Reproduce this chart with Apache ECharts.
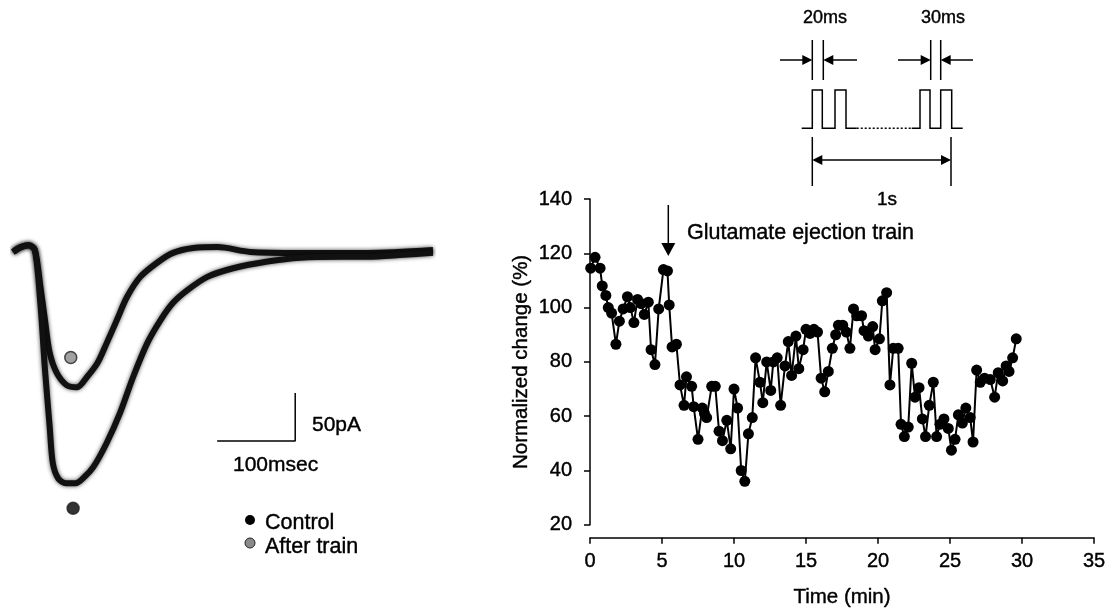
<!DOCTYPE html>
<html>
<head>
<meta charset="utf-8">
<style>
html, body { margin: 0; padding: 0; background: #fff; }
#main { width: 1116px; height: 613px; }
</style>
<script src="https://cdn.jsdelivr.net/npm/echarts@6/dist/echarts.min.js"></script>
</head>
<body>
<div id="main"></div>
<script>
var FONT = 'Liberation Sans, Arial, sans-serif'

// right panel: normalized change (%) vs time (min)
var times = [0.05, 0.35, 0.7, 0.85, 1.1, 1.27, 1.5, 1.8, 2.04, 2.3, 2.6, 2.8, 3.05, 3.3, 3.55, 3.77, 4.05, 4.24, 4.51, 4.77,
  5.1, 5.38, 5.5, 5.7, 6.0, 6.25, 6.53, 6.7, 7.06, 7.2, 7.5, 7.8, 7.95, 8.1, 8.45, 8.7, 8.96, 9.2, 9.5, 9.77,
  10.0, 10.25, 10.5, 10.75, 11.0, 11.27, 11.5, 11.8, 12.0, 12.27, 12.55, 12.73, 13.0, 13.24, 13.54, 13.77, 14.0, 14.3, 14.5, 14.8,
  15.0, 15.28, 15.55, 15.8, 16.05, 16.3, 16.55, 16.83, 17.06, 17.25, 17.55, 17.8, 18.05, 18.3, 18.52, 18.86, 19.03, 19.33, 19.63, 19.8,
  20.1, 20.3, 20.6, 20.83, 21.06, 21.4, 21.6, 21.83, 22.1, 22.34, 22.57, 22.85, 23.08, 23.3, 23.56, 23.84, 24.07, 24.3, 24.58, 24.88,
  25.1, 25.35, 25.58, 25.86, 26.1, 26.4, 26.6, 26.85, 27.1, 27.4, 27.8, 28.1, 28.35, 28.66, 28.9, 29.1, 29.35, 29.6]
var values = [114.5, 118.5, 114.5, 108, 104.5, 100, 98, 86.5, 95, 99.5, 104, 100, 94.5, 103, 101.5, 97.5, 102, 84.5, 79, 99.5,
  114, 113.5, 101, 85.5, 86.5, 71.5, 64, 74.5, 71, 63.5, 51.5, 63, 61, 59.5, 71, 71, 54.5, 51, 58.5, 48,
  70, 63, 40, 36, 53.5, 59.5, 81.5, 72.5, 65, 80, 69.5, 80, 81.5, 64, 78.5, 87.5, 75, 89.5, 77.5, 84.5,
  92, 90.5, 92, 91, 74, 69, 76.5, 85, 90, 93.5, 93.5, 91, 85, 99.5, 97, 97, 91.5, 89.5, 93, 84.5,
  88.5, 102.5, 105.5, 71.5, 85, 85, 57, 52.5, 56, 79.5, 67, 70.5, 59, 52.5, 64, 72.5, 52.5, 57, 59, 55.5,
  47.5, 51.5, 60.5, 57.5, 63, 59.5, 50.5, 77, 72.5, 74, 73.5, 67, 76, 73, 78.5, 76.5, 81.5, 88.5]
var xTicks = [0, 5, 10, 15, 20, 25, 30, 35]
var yTicks = [20, 40, 60, 80, 100, 120, 140]

// left panel: current traces, time in ms, current in pA
var controlT = [0, 10, 20, 28, 35, 41, 47, 51, 58, 68, 80, 92, 103, 120, 137, 154, 172, 189, 205, 223, 249, 282, 326, 368, 420, 454, 500, 538]
var controlI = [-2, 3, 5, 0, -55, -125, -184, -222, -238, -243, -243, -236, -226, -201, -170, -132, -97, -73, -55, -42, -28, -19, -12, -8, -7, -7, -5, -3]
var afterT = [0, 10, 20, 28, 35, 41, 47, 56, 69, 82, 95, 108, 120, 133, 146, 163, 185, 205, 231, 262, 304, 368, 454, 538]
var afterI = [-2, 3, 5, 0, -38, -73, -107, -128, -141, -143, -132, -118, -97, -73, -49, -28, -13, -3, 2, 3, -2, -3, -3, 0]
var scaleBarT = [261.5, 361.5, 361.5]
var scaleBarI = [-199, -199, -149]
var peakMarkT = [74, 77]
var peakMarkI = [-112, -269]

function pairs(xs, ys) {
  return xs.map(function (x, i) { return [x, ys[i]] })
}

var S = '#000'
function seg(x1, y1, x2, y2, dash) {
  return { type: 'line', shape: { x1: x1, y1: y1, x2: x2, y2: y2 }, style: { stroke: S, lineWidth: 1.5, lineDash: dash || null } }
}
// filled arrow head, tip at (x, y)
function head(x, y, dir) {
  var pts
  if (dir === 'r') pts = [[x, y], [x - 10, y - 5], [x - 10, y + 5]]
  else if (dir === 'l') pts = [[x, y], [x + 10, y - 5], [x + 10, y + 5]]
  else pts = [[x, y], [x - 7, y - 13], [x + 7, y - 13]]
  return { type: 'polygon', shape: { points: pts }, style: { fill: S } }
}
function txt(x, y, s, size, align) {
  return {
    type: 'text', x: x, y: y,
    style: { text: s, fontSize: size, fontFamily: FONT, fill: S, stroke: S, lineWidth: 0.4, align: align || 'left', verticalAlign: 'middle' }
  }
}

var chart = echarts.init(document.getElementById('main'))
var axisText = { color: '#000', fontSize: 20, fontFamily: FONT, textBorderColor: '#000', textBorderWidth: 0.4 }
var nameText = { color: '#000', fontSize: 20.5, fontFamily: FONT, textBorderColor: '#000', textBorderWidth: 0.4 }
var traceLine = { color: '#111', width: 6, shadowColor: 'rgba(0,0,0,0.7)', shadowBlur: 4 }

var option = {
  animation: false,
  backgroundColor: '#fff',
  grid: [
    { left: 590, right: 22, top: 199, bottom: 84 },
    { left: 13, width: 420, top: 202, height: 336 }
  ],
  xAxis: [
    {
      type: 'value', gridIndex: 0, min: xTicks[0], max: xTicks[xTicks.length - 1], interval: xTicks[1] - xTicks[0],
      offset: 13,
      axisLine: { lineStyle: { color: '#000', width: 1.5 } },
      axisTick: { length: 6, lineStyle: { color: '#000', width: 1.5 } },
      axisLabel: Object.assign({ margin: 14 }, axisText),
      splitLine: { show: false },
      name: 'Time (min)', nameLocation: 'middle', nameGap: 49,
      nameTextStyle: nameText
    },
    { type: 'value', gridIndex: 1, min: 0, max: 538, show: false }
  ],
  yAxis: [
    {
      type: 'value', gridIndex: 0, min: yTicks[0], max: yTicks[yTicks.length - 1], interval: yTicks[1] - yTicks[0],
      offset: 12,
      axisLine: { show: true, lineStyle: { color: '#000', width: 1.5 } },
      axisTick: { show: true, length: 6, lineStyle: { color: '#000', width: 1.5 } },
      axisLabel: Object.assign({ margin: 6 }, axisText),
      splitLine: { show: false },
      name: 'Normalized change (%)', nameLocation: 'middle', nameGap: 46,
      nameTextStyle: nameText
    },
    { type: 'value', gridIndex: 1, min: -300, max: 50, show: false }
  ],
  series: [
    {
      name: 'Normalized change', type: 'line', xAxisIndex: 0, yAxisIndex: 0,
      data: pairs(times, values),
      symbol: 'circle', symbolSize: 11,
      itemStyle: { color: '#000' },
      lineStyle: { color: '#000', width: 2 }
    },
    {
      name: 'After train trace', type: 'line', xAxisIndex: 1, yAxisIndex: 1,
      data: pairs(afterT, afterI), smooth: 0.3, showSymbol: false,
      lineStyle: traceLine
    },
    {
      name: 'Control trace', type: 'line', xAxisIndex: 1, yAxisIndex: 1,
      data: pairs(controlT, controlI), smooth: 0.3, showSymbol: false,
      lineStyle: traceLine
    },
    {
      name: 'scale bar', type: 'line', xAxisIndex: 1, yAxisIndex: 1,
      data: pairs(scaleBarT, scaleBarI), showSymbol: false,
      lineStyle: { color: '#000', width: 1.5 }
    },
    {
      name: 'peaks', type: 'scatter', xAxisIndex: 1, yAxisIndex: 1,
      data: pairs(peakMarkT, peakMarkI), symbolSize: 12,
      itemStyle: {
        color: function (p) { return p.dataIndex === 0 ? '#8a8a8a' : '#000' },
        borderColor: '#222', borderWidth: 1.5
      }
    }
  ],
  graphic: [
    // scale bar labels
    txt(312, 425, '50pA', 21),
    txt(233, 465, '100msec', 21),
    // legend
    { type: 'circle', shape: { cx: 250, cy: 520, r: 5 }, style: { fill: '#000' } },
    txt(265, 523, 'Control', 21.5),
    { type: 'circle', shape: { cx: 250, cy: 543, r: 5 }, style: { fill: '#8a8a8a', stroke: '#222', lineWidth: 1 } },
    txt(265, 547, 'After train', 21.5),
    // glutamate arrow
    seg(668.3, 205, 668.3, 245),
    head(668.3, 256, 'd'),
    txt(687, 233, 'Glutamate ejection train', 21.5),
    // stimulus diagram
    txt(825, 18, '20ms', 18, 'center'),
    txt(943, 18, '30ms', 18, 'center'),
    seg(780, 60, 804, 60), head(812.3, 60, 'r'),
    seg(812.3, 40, 812.3, 80), seg(823.3, 40, 823.3, 80),
    head(823.3, 60, 'l'), seg(832, 60, 857, 60),
    seg(898, 60, 922, 60), head(930.7, 60, 'r'),
    seg(930.7, 40, 930.7, 80), seg(940.7, 40, 940.7, 80),
    head(940.7, 60, 'l'), seg(949, 60, 973, 60),
    {
      type: 'polyline',
      shape: { points: [[801.7, 128.3], [812.3, 128.3], [812.3, 90], [822.3, 90], [822.3, 128.3], [835, 128.3], [835, 90], [846, 90], [846, 128.3], [856.7, 128.3]] },
      style: { stroke: S, lineWidth: 1.5, fill: null }
    },
    seg(856.7, 128.3, 911.7, 128.3, [2, 2]),
    {
      type: 'polyline',
      shape: { points: [[911.7, 128.3], [920, 128.3], [920, 90], [930, 90], [930, 128.3], [940.7, 128.3], [940.7, 90], [951.7, 90], [951.7, 128.3], [962.7, 128.3]] },
      style: { stroke: S, lineWidth: 1.5, fill: null }
    },
    seg(812.3, 137, 812.3, 186), seg(951, 137, 951, 186),
    seg(820, 160, 943, 160),
    head(812.3, 160, 'l'), head(951, 160, 'r'),
    txt(887, 200, '1s', 19, 'center')
  ]
}

chart.setOption(option)
</script>
</body>
</html>
